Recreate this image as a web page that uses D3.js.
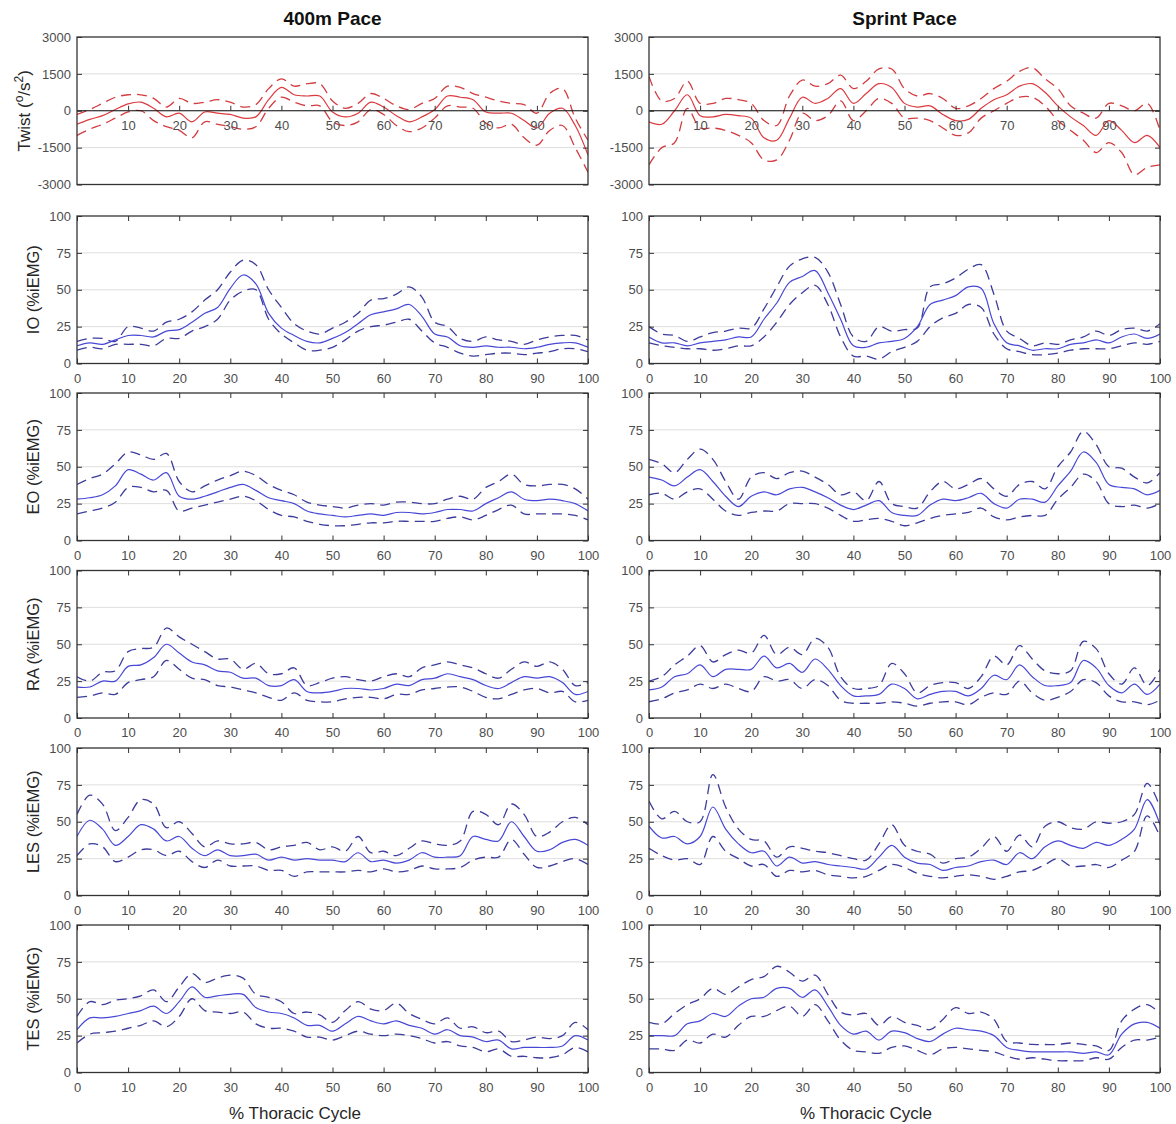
<!DOCTYPE html>
<html><head><meta charset="utf-8">
<script src="https://cdn.jsdelivr.net/npm/d3@7"></script>
<style>
body{margin:0;background:#fff}
svg{display:block}
text{font-family:"Liberation Sans",Arial,sans-serif}
</style>
</head><body>
<svg id="c" width="1176" height="1124"></svg>
<script>
// ---------------- DATA ----------------
const pct = [0,2.5,5,7.5,10,12.5,15,17.5,20,22.5,25,27.5,30,32.5,35,37.5,40,42.5,45,47.5,50,52.5,55,57.5,60,62.5,65,67.5,70,72.5,75,77.5,80,82.5,85,87.5,90,92.5,95,97.5,100];

const xTicks = [0,10,20,30,40,50,60,70,80,90,100];
const twistXTicks = [10,20,30,40,50,60,70,80,90];
const emgTicks = [0,25,50,75,100];
const twistTicks = [-3000,-1500,0,1500,3000];
const columnTitles = ["400m Pace","Sprint Pace"];
const rowLabels = ["Twist","IO (%iEMG)","EO (%iEMG)","RA (%iEMG)","LES (%iEMG)","TES (%iEMG)"];
const xLabel = "% Thoracic Cycle";

const twist400Mean  = [-550,-350,-200,50,280,350,100,-250,-100,-450,-50,-100,-150,-300,-250,450,950,650,600,600,-50,-250,-100,350,150,-200,-450,-250,50,600,550,450,-50,-100,-100,-400,-700,-100,100,-600,-1800];
const twist400Upper = [-150,50,300,550,650,650,500,150,500,300,350,450,350,150,250,900,1300,1000,1100,1100,400,100,300,700,500,200,50,300,500,1000,950,700,550,400,300,250,-100,700,900,-300,-1200];
const twist400Lower = [-1000,-750,-550,-300,-50,0,-400,-650,-800,-1100,-450,-550,-650,-750,-650,100,550,350,200,200,-450,-600,-450,50,-150,-600,-850,-700,-300,200,150,100,-500,-700,-550,-1100,-1400,-800,-600,-1500,-2500];

const twistSprintMean  = [-450,-550,0,650,-200,-250,-150,-200,-300,-1100,-1200,-300,550,300,500,900,300,700,1100,950,300,150,200,-150,-400,-350,100,450,650,1000,1100,750,200,-250,-600,-1000,-400,-800,-1300,-1000,-1500];
const twistSprintUpper = [1400,400,500,1200,300,300,500,450,300,-400,-600,600,1250,1000,1100,1450,900,1200,1700,1700,900,600,700,500,100,200,500,900,1200,1600,1750,1300,900,200,-100,-300,300,200,0,300,-800];
const twistSprintLower = [-2200,-1500,-1300,100,-700,-700,-800,-1000,-1300,-2000,-2000,-1200,-100,-400,-200,400,-400,0,500,300,-300,-300,-400,-700,-1000,-900,-300,0,300,550,550,200,-400,-800,-1200,-1700,-1300,-1700,-2600,-2300,-2200];

const io400Mean  = [12,14,13,16,19,19,18,22,23,28,34,38,51,60,54,34,24,19,15,14,17,21,27,33,35,37,40,32,20,18,12,11,12,11,11,10,11,13,14,14,11];
const io400Upper = [15,17,17,15,25,24,22,28,30,35,43,50,62,70,67,50,38,27,22,20,24,28,34,43,44,47,52,45,28,25,17,15,18,16,15,13,16,18,19,19,16];
const io400Lower = [9,11,10,13,13,13,12,17,17,22,25,30,43,49,50,30,20,14,9,9,11,16,22,25,26,28,30,22,14,11,7,5,6,7,7,6,7,8,10,10,8];

const ioSprintMean  = [18,14,14,12,14,15,16,18,18,30,41,55,59,63,48,30,12,11,14,15,17,25,40,43,46,52,51,27,14,12,9,10,10,13,14,16,14,18,20,17,20];
const ioSprintUpper = [25,20,19,15,18,21,22,24,24,37,52,66,71,72,62,40,18,15,25,22,23,24,52,54,58,64,67,47,22,17,12,14,13,16,18,22,19,23,24,22,27];
const ioSprintLower = [14,12,11,10,10,9,10,12,12,18,28,40,48,53,40,18,5,5,3,8,11,15,25,31,34,40,38,20,10,8,6,6,7,9,10,10,10,12,14,13,15];

const eo400Mean  = [28,29,31,37,48,45,41,46,30,28,30,33,36,38,34,29,27,25,20,18,17,16,17,18,17,19,19,18,19,21,21,20,25,29,33,28,27,28,27,25,20];
const eo400Upper = [38,42,45,52,60,58,55,59,40,33,37,41,44,47,44,38,34,31,26,24,23,22,24,25,24,26,26,25,25,28,30,28,36,40,45,38,37,38,38,35,28];
const eo400Lower = [18,20,22,26,36,36,33,34,20,22,24,26,28,30,27,21,17,16,13,11,10,10,11,12,12,13,13,13,13,15,16,14,17,21,24,18,18,18,18,17,14];

const eoSprintMean  = [43,41,37,43,48,40,30,23,30,33,31,35,36,33,29,24,21,24,27,19,17,17,24,28,27,29,32,25,22,28,28,26,37,47,60,53,38,36,35,31,34];
const eoSprintUpper = [55,52,46,55,62,55,40,28,43,46,42,46,47,43,38,31,33,27,40,25,23,22,33,40,35,38,42,35,30,38,40,35,50,60,74,65,50,49,43,39,46];
const eoSprintLower = [31,32,28,33,35,28,20,17,19,20,20,25,25,25,22,17,13,14,15,13,10,12,15,17,18,19,22,16,14,16,17,17,28,36,45,40,25,23,24,22,25];

const ra400Mean  = [21,21,25,25,35,36,41,50,44,38,36,32,31,27,27,22,22,26,18,17,18,20,20,19,20,23,22,26,27,30,28,26,22,20,24,28,27,28,24,16,18];
const ra400Upper = [28,25,31,32,45,47,48,61,55,50,45,40,40,33,37,30,30,34,22,24,27,28,26,25,28,30,28,34,36,38,36,34,30,27,33,38,35,38,33,22,24];
const ra400Lower = [14,15,17,16,24,26,28,39,33,27,26,22,21,19,17,14,12,17,12,11,11,13,14,14,13,16,16,19,20,21,21,18,14,13,16,19,20,17,18,11,12];

const raSprintMean  = [19,21,28,30,36,28,33,33,33,42,34,37,31,40,33,22,15,15,16,23,20,13,16,18,18,15,20,29,26,36,28,22,22,24,39,34,22,17,23,16,23];
const raSprintUpper = [25,28,36,42,49,38,43,46,44,56,43,48,43,54,48,28,20,20,22,37,30,17,22,24,24,20,28,42,36,49,40,32,30,32,52,47,30,23,34,22,33];
const raSprintLower = [11,13,17,19,23,20,23,20,18,28,25,26,20,26,22,12,10,10,10,11,10,8,10,11,11,9,14,17,16,25,17,12,14,18,26,24,15,11,11,9,12];

const les400Mean  = [40,51,45,34,40,48,45,37,40,32,27,31,27,27,28,24,26,24,25,24,24,23,29,23,24,22,24,29,26,26,27,40,38,37,50,40,30,31,36,38,34];
const les400Upper = [55,68,62,44,53,65,62,46,50,42,33,37,35,35,36,31,33,34,36,31,33,30,40,29,30,27,32,37,35,34,37,57,55,48,62,55,40,43,50,53,48];
const les400Lower = [27,35,33,23,26,31,31,27,30,23,19,24,20,20,20,17,17,13,16,16,16,16,17,16,18,16,17,20,18,18,19,24,26,26,38,28,19,20,23,25,21];

const lesSprintMean  = [47,39,40,35,40,60,45,35,29,30,20,26,22,23,21,20,19,18,26,34,26,22,21,17,19,20,23,24,21,29,25,33,37,34,32,36,34,38,45,65,48];
const lesSprintUpper = [64,52,57,50,50,82,60,45,38,37,26,33,32,30,29,27,25,24,35,48,34,30,28,22,25,26,32,40,30,41,33,47,50,46,45,50,49,50,55,76,60];
const lesSprintLower = [32,27,24,25,21,40,30,25,20,21,13,17,16,17,14,13,12,13,17,21,19,15,13,12,13,14,13,11,13,16,17,21,25,20,20,21,19,24,30,54,40];

const tes400Mean  = [29,37,37,38,40,42,45,40,48,58,51,52,53,53,44,41,40,37,32,32,28,33,38,35,33,35,32,30,26,29,25,24,21,22,16,17,17,17,18,25,22];
const tes400Upper = [38,48,46,49,50,52,56,48,58,67,61,64,66,64,53,51,48,40,41,39,34,42,48,43,42,47,40,36,33,37,30,31,27,28,21,22,24,23,25,34,29];
const tes400Lower = [20,26,27,28,30,32,35,31,38,50,42,41,40,41,33,30,30,28,24,24,22,25,28,26,25,26,25,23,20,21,18,17,14,16,11,11,10,10,12,17,14];

const tesSprintMean  = [25,25,25,33,35,40,38,45,50,51,57,57,51,56,45,32,26,28,22,28,27,23,21,26,30,29,28,25,17,15,14,14,14,14,13,14,12,26,33,34,30];
const tesSprintUpper = [34,33,40,46,50,57,53,58,63,65,72,68,62,66,53,41,39,40,32,38,34,32,29,36,44,40,41,36,21,20,19,19,19,20,19,18,15,35,43,46,40];
const tesSprintLower = [16,16,15,22,20,26,24,32,38,38,42,45,38,46,35,22,15,14,13,17,18,15,12,16,17,16,15,14,11,9,10,9,8,8,8,10,9,17,22,22,24];

// ---------------- LAYOUT ----------------
const svg = d3.select("#c");
svg.append("rect").attr("width",1176).attr("height",1124).attr("fill","#fff");

const colX = [[77,588],[649,1160]];
const xLabelCenters = [295,866];
const rowTops = [37,216,393,570.5,748,925];
const rowH = 147.5;

const rows = [
  {twist:true, sets:[[twist400Mean,twist400Upper,twist400Lower],[twistSprintMean,twistSprintUpper,twistSprintLower]]},
  {sets:[[io400Mean,io400Upper,io400Lower],[ioSprintMean,ioSprintUpper,ioSprintLower]]},
  {sets:[[eo400Mean,eo400Upper,eo400Lower],[eoSprintMean,eoSprintUpper,eoSprintLower]]},
  {sets:[[ra400Mean,ra400Upper,ra400Lower],[raSprintMean,raSprintUpper,raSprintLower]]},
  {sets:[[les400Mean,les400Upper,les400Lower],[lesSprintMean,lesSprintUpper,lesSprintLower]]},
  {sets:[[tes400Mean,tes400Upper,tes400Lower],[tesSprintMean,tesSprintUpper,tesSprintLower]]}
];

const boxColor = "#333";
const tickTextColor = "#4d4d4d";
const gridColor = "#dedede";
const fmt = d => String(d);

rows.forEach((row, ri) => {
  row.sets.forEach((set, ci) => {
    const [x0,x1] = colX[ci];
    const w = x1 - x0, h = rowH;
    const g = svg.append("g").attr("transform",`translate(${x0},${rowTops[ri]})`);
    const x = d3.scaleLinear().domain([0,100]).range([0,w]);
    const y = row.twist ? d3.scaleLinear().domain([-3000,3000]).range([h,0])
                        : d3.scaleLinear().domain([0,100]).range([h,0]);
    const yt = row.twist ? twistTicks : emgTicks;

    // grid
    g.selectAll("line.grid").data(yt.slice(1,-1)).join("line")
      .attr("class","grid").attr("x1",0).attr("x2",w)
      .attr("y1",d=>y(d)).attr("y2",d=>y(d))
      .attr("stroke",gridColor).attr("stroke-width",1);

    // data
    const clipId = `clip${ri}_${ci}`;
    g.append("clipPath").attr("id",clipId).append("rect").attr("width",w).attr("height",h);
    const dg = g.append("g").attr("clip-path",`url(#${clipId})`);
    const line = d3.line().x((d,i)=>x(pct[i])).y(d=>y(d)).curve(d3.curveCatmullRom.alpha(0.5));
    const solidC = row.twist ? "#dc3a3f" : "#4848d6";
    const dashC  = row.twist ? "#d23c40" : "#3c3c9c";
    [set[1], set[2]].forEach(s => {
      dg.append("path").attr("d", line(s)).attr("fill","none")
        .attr("stroke",dashC).attr("stroke-width",1.3).attr("stroke-dasharray","10,6");
    });
    dg.append("path").attr("d", line(set[0])).attr("fill","none")
      .attr("stroke",solidC).attr("stroke-width",1.2);

    // y axes
    const yl = g.append("g").call(d3.axisLeft(y).tickValues(yt).tickFormat(fmt).tickSizeInner(-5).tickSizeOuter(0).tickPadding(6));
    const yr = g.append("g").attr("transform",`translate(${w},0)`)
      .call(d3.axisRight(y).tickValues(yt).tickSizeInner(-5).tickSizeOuter(0).tickFormat(""));

    let axes = [yl, yr];
    if (row.twist) {
      g.append("line").attr("x1",0).attr("x2",w).attr("y1",y(0)).attr("y2",y(0))
        .attr("stroke","#111").attr("stroke-width",1.2);
      const xa = g.append("g").attr("transform",`translate(0,${y(0)})`)
        .call(d3.axisBottom(x).tickValues(twistXTicks).tickFormat(fmt).tickSizeInner(-5).tickSizeOuter(0).tickPadding(10));
      axes.push(xa);
    } else {
      const xb = g.append("g").attr("transform",`translate(0,${h})`)
        .call(d3.axisBottom(x).tickValues(xTicks).tickFormat(fmt).tickSizeInner(-5).tickSizeOuter(0).tickPadding(10));
      const xt = g.append("g")
        .call(d3.axisTop(x).tickValues(xTicks).tickSizeInner(-5).tickSizeOuter(0).tickFormat(""));
      axes.push(xb, xt);
    }
    axes.forEach(a => {
      a.select(".domain").remove();
      a.selectAll(".tick line").attr("stroke",boxColor);
      a.selectAll(".tick text").attr("fill",tickTextColor).style("font-size","13px")
        .style("font-family",'"Liberation Sans",Arial,sans-serif');
    });

    // box
    g.append("rect").attr("width",w).attr("height",h).attr("fill","none")
      .attr("stroke",boxColor).attr("stroke-width",1.3);

    // y label (left column only)
    if (ci === 0) {
      const cy = rowTops[ri] + h/2;
      if (row.twist) {
        const t = svg.append("text").attr("transform",`translate(30,${cy}) rotate(-90)`)
          .attr("text-anchor","middle").attr("fill","#262626").style("font-size","17px");
        t.append("tspan").text("Twist (");
        t.append("tspan").text("o").attr("baseline-shift","super").style("font-size","12px");
        t.append("tspan").text("/s");
        t.append("tspan").text("2").attr("baseline-shift","super").style("font-size","12px");
        t.append("tspan").text(")");
      } else {
        svg.append("text").attr("transform",`translate(39,${cy}) rotate(-90)`)
          .attr("text-anchor","middle").attr("fill","#262626").style("font-size","16.5px")
          .text(rowLabels[ri]);
      }
    }
  });
});

// titles and x labels
colX.forEach(([x0,x1], ci) => {
  svg.append("text").attr("x",(x0+x1)/2).attr("y",25).attr("text-anchor","middle")
    .attr("fill","#111").style("font-size","19px").style("font-weight","bold").text(columnTitles[ci]);
  svg.append("text").attr("x",xLabelCenters[ci]).attr("y",1119).attr("text-anchor","middle")
    .attr("fill","#262626").style("font-size","17px").text(xLabel);
});
</script>
</body></html>
